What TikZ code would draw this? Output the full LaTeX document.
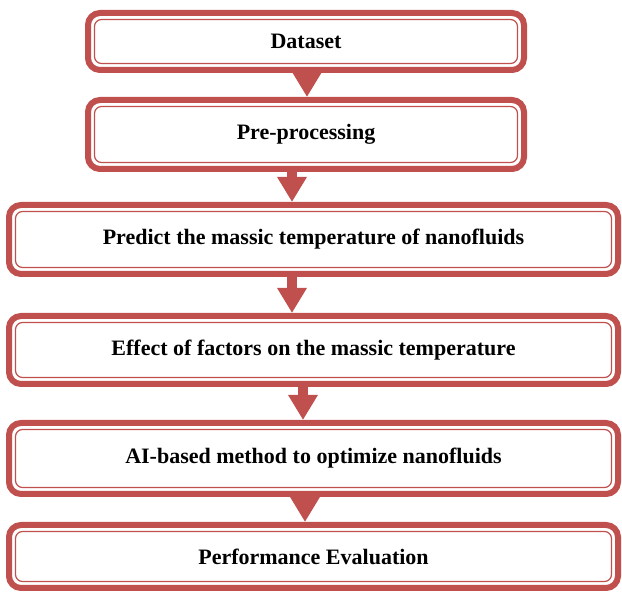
\documentclass[tikz,border=0pt]{standalone}
\usepackage{fontspec}
\setmainfont{Liberation Serif}
\usetikzlibrary{arrows.meta,calc}
\definecolor{boxred}{HTML}{C0504D}
\begin{document}
\begin{tikzpicture}[x=1pt,y=-1pt,
  box/.style={draw=boxred, line width=6pt, rounded corners=12pt, inner sep=0pt, outer sep=0pt,
    font=\bfseries\fontsize{22}{25}\selectfont, fill=white},
  innerline/.style={draw=boxred, line width=1.2pt, rounded corners=7pt},
  flow/.style={draw=boxred, line width=10pt, -{Triangle[length=25pt,width=28pt]}}]
\useasboundingbox (0,0) rectangle (622,593);
\foreach \n/\xa/\ya/\xb/\yb/\t in {
  b1/85/10/527/73/Dataset,
  b2/85/97/527/172/Pre-processing,
  b3/6/202/621/277/Predict the massic temperature of nanofluids,
  b4/6/313/621/387/Effect of factors on the massic temperature,
  b5/6/420/621/497/AI-based method to optimize nanofluids,
  b6/6/522/621/591/Performance Evaluation}{
  \node[box, minimum width={\xb-\xa-6}, minimum height={\yb-\ya-6}]
    (\n) at ({(\xa+\xb)/2},{(\ya+\yb)/2}) {\t};
  \draw[innerline] ([shift={(6.5,6.5)}]\n.north west) rectangle ([shift={(-6.5,-6.5)}]\n.south east);
}
\draw[flow] ([xshift=1pt]b1.south) -- ([xshift=1pt,yshift=3pt]b2.north);
\draw[flow] ([xshift=-14pt]b2.south) -- ([xshift=-21.5pt,yshift=3pt]b3.north);
\draw[flow] ([xshift=-21.5pt]b3.south) -- ([xshift=-21.5pt,yshift=3pt]b4.north);
\draw[flow] ([xshift=-10.5pt]b4.south) -- ([xshift=-10.5pt,yshift=3pt]b5.north);
\draw[flow] ([xshift=-8.5pt]b5.south) -- ([xshift=-8.5pt,yshift=3pt]b6.north);
\end{tikzpicture}
\end{document}
